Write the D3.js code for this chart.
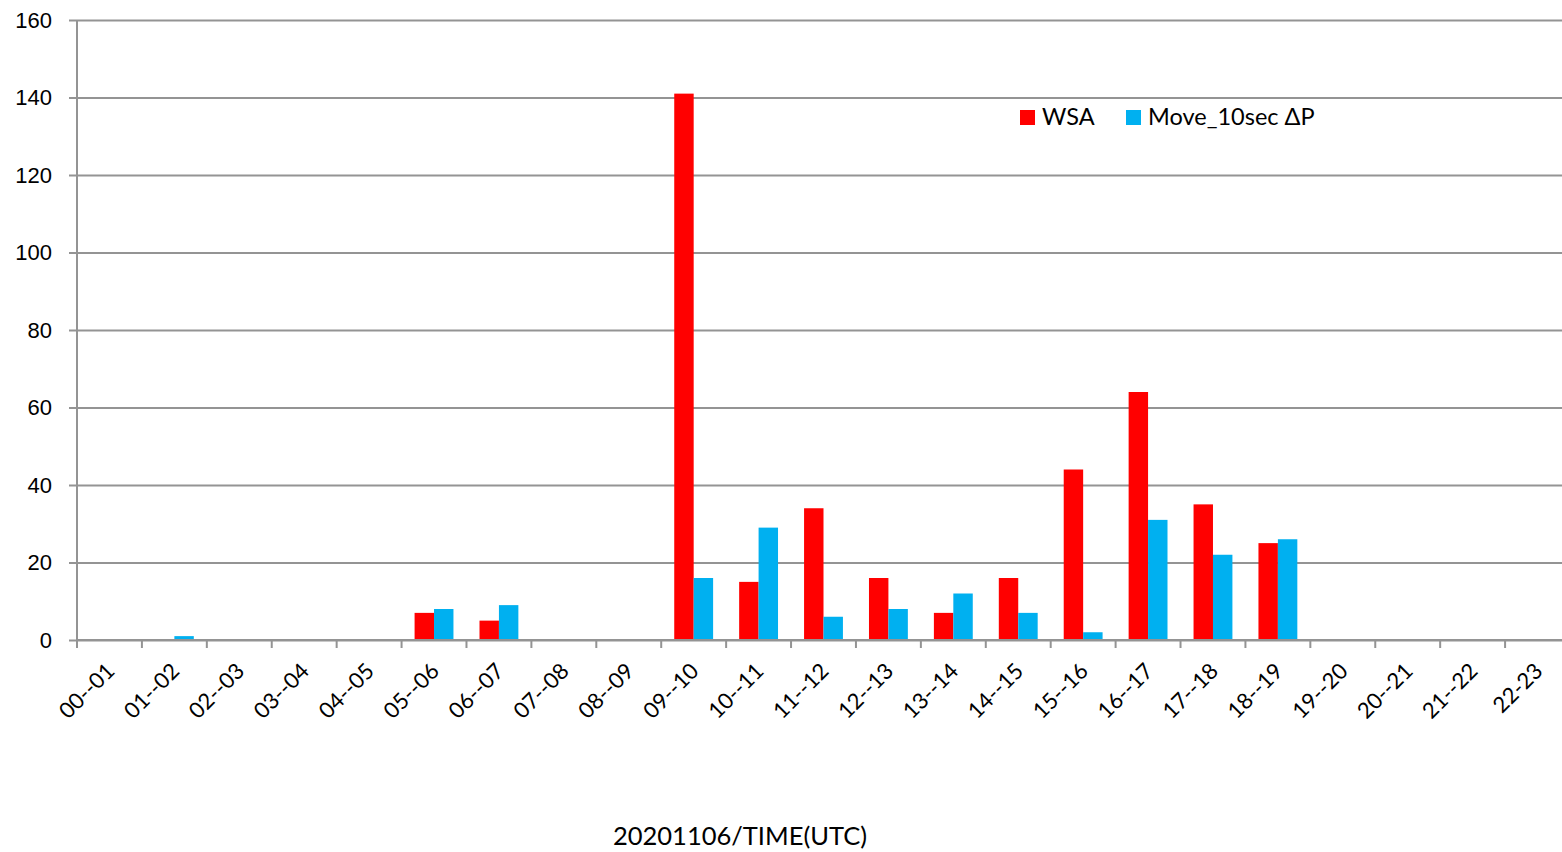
<!DOCTYPE html>
<html>
<head>
<meta charset="utf-8">
<script src="https://cdn.jsdelivr.net/npm/d3@7"></script>
<style>
  html, body { margin: 0; padding: 0; background: #fff; }
  svg { display: block; font-family: Lato, "Open Sans", sans-serif; }
</style>
</head>
<body>
<svg id="chart" width="1562" height="852"></svg>
<script>
// Hourly intervals (UTC) on 2020-11-06
const categories = [
  "00--01", "01--02", "02--03", "03--04", "04--05", "05--06", "06--07", "07--08",
  "08--09", "09--10", "10--11", "11--12", "12--13", "13--14", "14--15", "15--16",
  "16--17", "17--18", "18--19", "19--20", "20--21", "21--22", "22-23"
];
const wsaValues  = [0, 0, 0, 0, 0, 7, 5, 0, 0, 141, 15, 34, 16, 7, 16, 44, 64, 35, 25, 0, 0, 0, 0];
const moveValues = [0, 1, 0, 0, 0, 8, 9, 0, 0, 16, 29, 6, 8, 12, 7, 2, 31, 22, 26, 0, 0, 0, 0];
const yTicks = [0, 20, 40, 60, 80, 100, 120, 140, 160];
const seriesNames = ["WSA", "Move_10sec \u0394P"];
const seriesColors = ["#ff0000", "#00b0f0"];
const axisTitle = "20201106/TIME(UTC)";

const svg = d3.select("#chart");
const plot = { left: 77, right: 1570, top: 20, bottom: 640 };
const gridColor = "#949494";

const x = d3.scaleBand().domain(categories).range([plot.left, plot.right]).paddingInner(0).paddingOuter(0);
const xs = d3.scaleBand().domain([0, 1]).range([0, x.bandwidth()]).paddingInner(0).paddingOuter(0.67);
const y = d3.scaleLinear().domain([0, 160]).range([plot.bottom, plot.top]);

// horizontal gridlines with short ticks left of the axis
const yAxis = d3.axisLeft(y).tickValues(yTicks).tickSize(-(plot.right - plot.left)).tickPadding(25);
const gy = svg.append("g").attr("transform", `translate(${plot.left},0)`).call(yAxis);
gy.select(".domain").remove();
gy.selectAll(".tick line").attr("x1", -8).attr("stroke", gridColor).attr("stroke-width", 2);
gy.selectAll(".tick text").attr("font-size", 22).attr("fill", "#000");

// vertical axis line
svg.append("line")
  .attr("x1", plot.left).attr("x2", plot.left).attr("y1", y(160)).attr("y2", y(0))
  .attr("stroke", gridColor).attr("stroke-width", 2);

// bars
const series = [wsaValues, moveValues];
series.forEach((vals, si) => {
  svg.append("g").selectAll("rect")
    .data(categories.map((c, i) => ({ c, v: vals[i] })).filter(d => d.v > 0))
    .join("rect")
    .attr("x", d => x(d.c) + xs(si))
    .attr("width", xs.bandwidth())
    .attr("y", d => y(d.v))
    .attr("height", d => y(0) - y(d.v))
    .attr("fill", seriesColors[si]);
});

// category axis with tick marks at band boundaries
const gx = svg.append("g").attr("transform", `translate(0,${plot.bottom})`);
gx.append("line").attr("x1", plot.left).attr("x2", plot.right).attr("y1", 0).attr("y2", 0)
  .attr("stroke", gridColor).attr("stroke-width", 2);
gx.selectAll("line.tick").data(categories).join("line")
  .attr("class", "tick")
  .attr("x1", d => x(d)).attr("x2", d => x(d))
  .attr("y1", 0).attr("y2", 8)
  .attr("stroke", gridColor).attr("stroke-width", 2);
gx.selectAll("text").data(categories).join("text")
  .attr("transform", d => `translate(${x(d) + x.bandwidth() / 2 + 1},${27}) rotate(-45)`)
  .attr("text-anchor", "end")
  .attr("dy", "0.35em")
  .attr("font-size", 22)
  .attr("fill", "#000")
  .text(d => d);

// legend
const legend = svg.append("g").attr("font-size", 23.5);
const legendX = [1020, 1126];
seriesNames.forEach((name, i) => {
  legend.append("rect").attr("x", legendX[i]).attr("y", 110)
    .attr("width", 15).attr("height", 15).attr("fill", seriesColors[i]);
  legend.append("text").attr("x", legendX[i] + 22).attr("y", 125)
    .attr("fill", "#000").text(name);
});

// axis title
svg.append("text").attr("x", 740).attr("y", 845).attr("text-anchor", "middle")
  .attr("font-size", 25.5).attr("fill", "#000").text(axisTitle);
</script>
</body>
</html>
